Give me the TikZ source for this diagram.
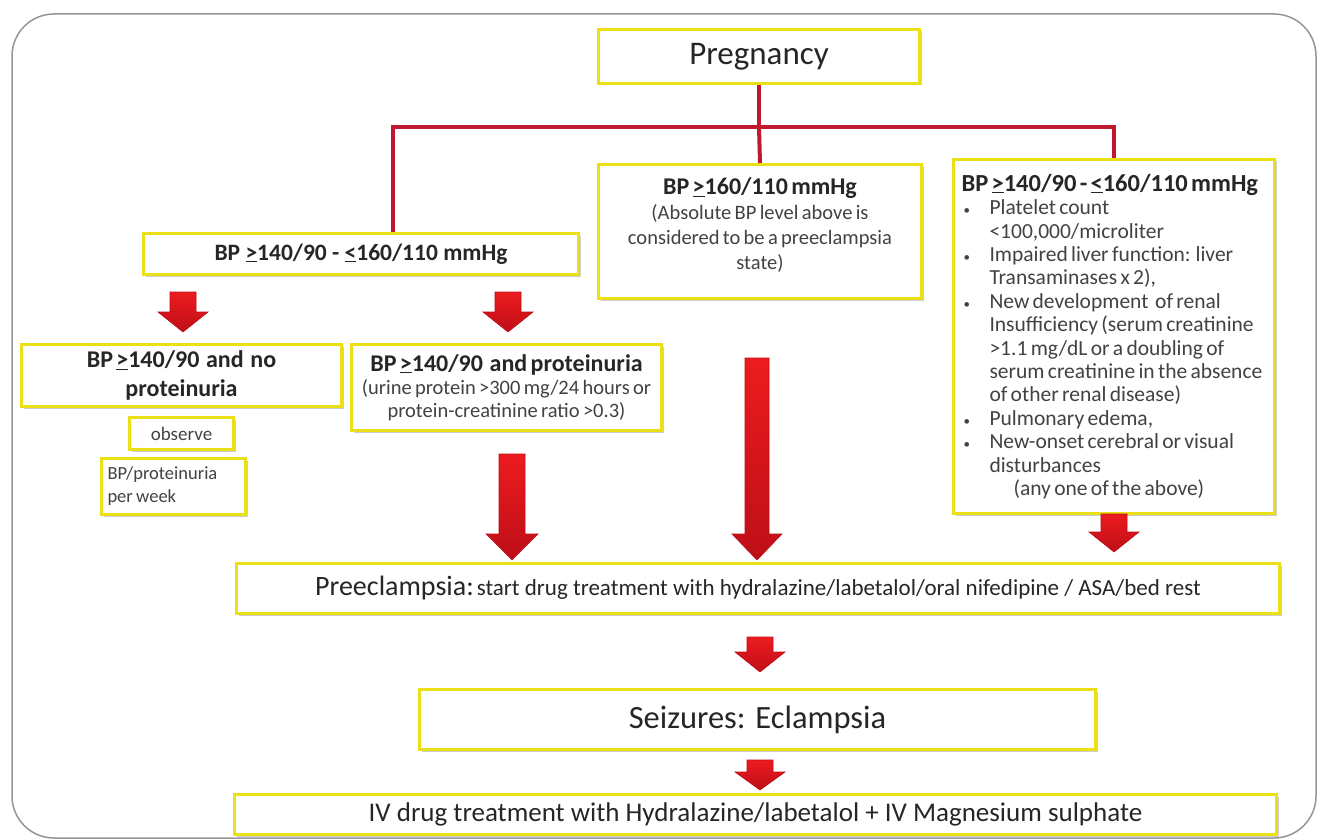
\documentclass[tikz,border=0pt]{standalone}
\usepackage{fontspec}
\setmainfont{Carlito}
\usetikzlibrary{shadows}

\definecolor{ybox}{RGB}{235,224,22}
\definecolor{txt}{RGB}{38,38,38}
\definecolor{soft}{RGB}{66,66,66}
\definecolor{conn}{RGB}{192,24,46}
\definecolor{arrfill}{RGB}{236,28,30}
\definecolor{arrdark}{RGB}{190,14,24}
\definecolor{framecol}{RGB}{150,150,150}

% font size in px-sized points
\newcommand\fs[2]{\fontsize{#1}{#2}\selectfont}
% underlined comparison signs as typed in the chart
\newcommand\bpge{\underline{>}}
\newcommand\bple{\underline{<}}
% small bullet and hanging indent for the criteria list
\newcommand\bul{\makebox[28pt][l]{\hspace{2pt}{\fontsize{13}{13}\selectfont•}}}
\newcommand\ind{\hspace*{28pt}}
% thick downward block arrow: x, top y, tip y, shaft width, head width, head length
\newcommand\blockdown[6]{%
  \path[top color=arrfill, bottom color=arrdark, draw=arrdark, line width=0.6pt]
    (#1-#4/2,#2) -- (#1+#4/2,#2) -- (#1+#4/2,#3-#6) -- (#1+#5/2,#3-#6)
    -- (#1,#3) -- (#1-#5/2,#3-#6) -- (#1-#4/2,#3-#6) -- cycle;}

\tikzset{
  box/.style={draw=ybox, line width=3pt, fill=white,
    drop shadow={shadow xshift=2pt, shadow yshift=-2pt, opacity=0.28, fill=black!70},
    inner sep=0pt, align=center, text=txt, anchor=north west},
  redline/.style={draw=conn, line width=4pt, line join=miter}
}

\begin{document}
\begin{tikzpicture}[x=1pt,y=-1pt]
\useasboundingbox (0,0) rectangle (1323,840);
\fill[white] (0,0) rectangle (1323,840);

% outer rounded frame
\draw[framecol, line width=1.5pt, rounded corners=42pt] (12,14) rectangle (1316,838);

% boxes
\node[box, minimum width=321, minimum height=54] (preg) at (597,28)
  {\fs{33}{38}Pregnancy};

\node[box, minimum width=435, minimum height=41] (lbp) at (142,232)
  {\fs{23.5}{27}\bfseries BP \bpge140/90 - \bple160/110 mmHg};

\node[box, minimum width=323, minimum height=134, text width=315] (mid) at (597,163)
  {{\fs{24}{28}\bfseries BP \bpge160/110 mmHg\par}%
   {\fs{20.5}{25}\color{soft}(Absolute BP level above is\\considered to be a preeclampsia\\state)\par}\vspace*{12pt}};

\node[box, minimum width=321, minimum height=354, text width=305, align=left, inner xsep=8pt] (rbox) at (952,158)
  {{\fs{24.5}{27}\bfseries BP \bpge140/90 - \bple160/110 mmHg\par}%
   {\fs{21.5}{23.4}\color{soft}%
   \bul Platelet count\\
   \ind <100,000/microliter\\
   \bul Impaired liver function: liver\\
   \ind Transaminases x 2),\\
   \bul New development \ of renal\\
   \ind Insufficiency (serum creatinine\\
   \ind >1.1 mg/dL or a doubling of\\
   \ind serum creatinine in the absence\\
   \ind of other renal disease)\\
   \bul Pulmonary edema,\\
   \bul New-onset cerebral or visual\\
   \ind disturbances\\
   \hspace*{52pt}(any one of the above)\par}};

\node[box, minimum width=320, minimum height=62, text width=312] (nop) at (20,343)
  {\fs{24}{29}\bfseries BP \bpge140/90\ \ and\ \ no\\proteinuria\par};

\node[box, minimum width=104, minimum height=32] (obs) at (128,416)
  {\fs{19}{22}\color{soft}observe};

\node[box, minimum width=144, minimum height=56, text width=132, align=left, inner xsep=6pt] (pw) at (100,457)
  {\fs{18.5}{23}\color{soft}BP/proteinuria\\per week\par};

\node[box, minimum width=310, minimum height=86, text width=306] (pro) at (350,343)
  {{\fs{24}{28}\bfseries BP \bpge140/90\ \ and proteinuria\par}%
   {\fs{20.5}{23}\color{soft}(urine protein >300 mg/24 hours or\\protein-creatinine ratio >0.3)\par}};

\node[box, minimum width=1043, minimum height=50] (pre) at (235,562)
  {{\fs{28}{32}Preeclampsia:} {\fs{23}{26}start drug treatment with hydralazine/labetalol/oral nifedipine / ASA/bed rest}};

\node[box, minimum width=676, minimum height=60] (sez) at (418,688)
  {\fs{32.5}{37}Seizures: Eclampsia};

\node[box, minimum width=1042, minimum height=40] (iv) at (233,793)
  {\fs{27}{30}IV drug treatment with Hydralazine/labetalol + IV Magnesium sulphate};

% branching connector from Pregnancy
\coordinate (jl) at (393,127);
\coordinate (jr) at (rbox.north |- jl);
\draw[redline] (preg.south) -- (preg.south |- jl);
\draw[redline] (jl |- lbp.north) -- (jl) -- (jr) -- (rbox.north);
\draw[redline] (preg.south |- jl) -- (mid.north);

% block arrows
\blockdown{183}{292}{332}{26}{50}{20}
\blockdown{508}{292}{332}{26}{50}{20}
\blockdown{512}{454}{560}{26}{52}{26}
\blockdown{757}{358}{560}{24}{50}{26}
\blockdown{1114}{514}{552}{26}{50}{20}
\blockdown{760}{637}{672}{26}{50}{20}
\blockdown{760}{760}{790}{26}{50}{18}
\end{tikzpicture}
\end{document}
